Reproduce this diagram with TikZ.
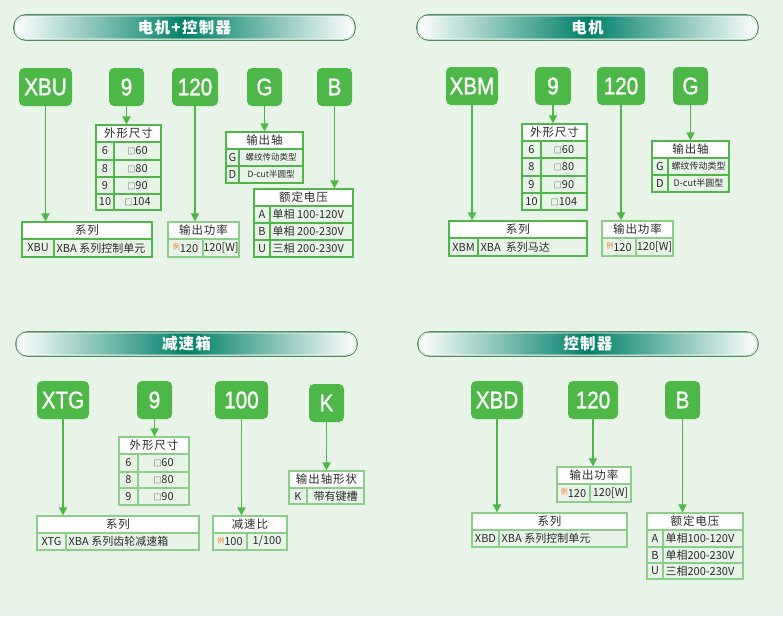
\documentclass[tikz,border=0pt]{standalone}
\usepackage{fontspec}
\setmainfont{Noto Sans CJK SC}
\newfontfamily\codefont[FakeStretch=0.86,FakeBold=1.2]{Liberation Sans}
\newfontfamily\hdrfont[LetterSpace=8]{Noto Sans CJK SC}
\newfontfamily\banfont[LetterSpace=8]{Noto Sans CJK SC}
\usetikzlibrary{arrows.meta}
\definecolor{bg}{HTML}{E8F4E8}
\definecolor{gr}{HTML}{4DB848}
\definecolor{grl}{HTML}{8ACF86}
\definecolor{teal1}{HTML}{00806A}
\definecolor{bord}{HTML}{4E8E62}
\definecolor{ora}{HTML}{F07A28}
\definecolor{txt}{HTML}{2A2A2A}
\newcommand\sq{{\fontsize{8}{8}\selectfont □}}
\newcommand\li{{\color{ora}\fontsize{7}{7}\selectfont\raisebox{2.5pt}{例}}}
\tikzset{
  codebox/.style={fill=gr, rounded corners=5pt, text=white, inner sep=0,
    font=\codefont\fontsize{24}{24}\selectfont},
  conn/.style={draw=gr, line width=1.8pt, -{Triangle[width=8pt,length=8pt]}},
  cell/.style={draw=gr, line width=1.2pt, inner sep=0, text=txt,
    font=\fontsize{11}{11}\selectfont},
  lt/.style={draw=grl},
  hdr/.style={fill=white, font=\hdrfont\fontsize{11.5}{11.5}\selectfont},
  small/.style={font=\fontsize{8.5}{8.5}\selectfont},
  smallb/.style={font=\fontsize{9}{9}\selectfont},
  lab/.style={anchor=west, xshift=3pt, inner sep=0, text=txt,
    font=\fontsize{11}{11}\selectfont},
  bannerbox/.style={rounded corners=12pt, draw=bord, line width=1.8pt, inner sep=0,
    left color=white, right color=white, middle color=teal1},
  bannertext/.style={text=white, font=\banfont\bfseries\fontsize{15.5}{15.5}\selectfont},
  spanbox/.style n args={4}{minimum width={(#3-#1)*1pt}, minimum height={(#4-#2)*1pt},
    at={({(#1+#3)/2},{(#2+#4)/2})}, anchor=center}
}
\newcommand\banner[6]{%
  \node[bannerbox, spanbox={#2}{#3}{#4}{#5}] (#1) {};
  \draw[white, line width=0.8pt, rounded corners=10pt]
    ([shift={(1.8pt,-1.8pt)}]#1.north west) rectangle ([shift={(-1.8pt,1.8pt)}]#1.south east);
  \node[bannertext] (#1t) at (#1.center) {#6};
}
\newcommand\cb[6]{\node[codebox,spanbox={#2}{#3}{#4}{#5}] (#1) {#6};}
\newcommand\hc[7][]{\node[cell,hdr,#1,spanbox={#3}{#4}{#5}{#6}] (#2) {#7};}
\newcommand\bc[7][]{\node[cell,#1,spanbox={#3}{#4}{#5}{#6}] (#2) {#7};}
\newcommand\blc[7][]{\node[cell,#1,spanbox={#3}{#4}{#5}{#6},label={[lab]west:{#7}}] (#2) {};}
\begin{document}
\begin{tikzpicture}[x=1pt,y=-1pt]
\fill[bg] (0,0) rectangle (783,616);
\useasboundingbox (0,0) rectangle (783,616);

%================ Top-left: motor + controller
\banner{banA}{14}{15}{355}{40}{电机+控制器}
\cb{xbu}{19}{68}{72}{106}{XBU}
\cb{nineA}{109}{68}{144}{106}{9}
\cb{powA}{172}{68}{218}{106}{120}
\cb{shA}{247}{68}{282}{106}{G}
\cb{vA}{317}{68}{352}{106}{B}

\bc{dimA1l}{96}{142}{114}{160}{6}  \bc{dimA1r}{114}{142}{161}{160}{\sq60}
\bc{dimA2l}{96}{160}{114}{177}{8}  \bc{dimA2r}{114}{160}{161}{177}{\sq80}
\bc{dimA3l}{96}{177}{114}{194}{9}  \bc{dimA3r}{114}{177}{161}{194}{\sq90}
\bc{dimA4l}{96}{194}{114}{210}{10} \bc{dimA4r}{114}{194}{161}{210}{\sq104}
\hc{dimAh}{96}{125}{161}{142}{外形尺寸}

\bc{shA1l}{226}{149}{239}{166}{G} \bc[small]{shA1r}{239}{149}{303}{166}{螺纹传动类型}
\bc{shA2l}{226}{166}{239}{183}{D} \bc[small]{shA2r}{239}{166}{303}{183}{D-cut半圆型}
\hc{shAh}{226}{132}{303}{149}{输出轴}

\bc{vA1l}{254}{206}{270}{223}{A} \blc{vA1r}{270}{206}{353}{223}{单相 100-120V}
\bc{vA2l}{254}{223}{270}{240}{B} \blc{vA2r}{270}{223}{353}{240}{单相 200-230V}
\bc{vA3l}{254}{240}{270}{257}{U} \blc{vA3r}{270}{240}{353}{257}{三相 200-230V}
\hc{vAh}{254}{189}{353}{206}{额定电压}

\bc{serA1l}{22}{239}{54}{257}{XBU} \blc{serA1r}{54}{239}{152}{257}{XBA 系列控制单元}
\hc{serAh}{22}{222}{152}{239}{系列}

\bc[lt]{pwA1l}{168}{239}{203}{257}{\li120} \bc[lt]{pwA1r}{203}{239}{239}{257}{120[W]}
\hc[lt]{pwAh}{168}{222}{239}{239}{输出功率}

\draw[conn] (xbu.south) -- (xbu.south |- serAh.north);
\draw[conn] (nineA.south) -- (nineA.south |- dimAh.north);
\draw[conn] (powA.south) -- (powA.south |- pwAh.north);
\draw[conn] (shA.south) -- (shA.south |- shAh.north);
\draw[conn] (vA.south) -- (vA.south |- vAh.north);

%================ Top-right: motor
\banner{banB}{417}{15}{758}{40}{电机}
\cb{xbm}{446}{67}{498}{105}{XBM}
\cb{nineB}{535}{67}{571}{105}{9}
\cb{powB}{597}{67}{645}{105}{120}
\cb{shB}{673}{67}{708}{105}{G}

\bc{dimB1l}{522}{141}{541}{158}{6}  \bc{dimB1r}{541}{141}{587}{158}{\sq60}
\bc{dimB2l}{522}{158}{541}{176}{8}  \bc{dimB2r}{541}{158}{587}{176}{\sq80}
\bc{dimB3l}{522}{176}{541}{193}{9}  \bc{dimB3r}{541}{176}{587}{193}{\sq90}
\bc{dimB4l}{522}{193}{541}{210}{10} \bc{dimB4r}{541}{193}{587}{210}{\sq104}
\hc{dimBh}{522}{124}{587}{141}{外形尺寸}

\bc{shB1l}{652}{158}{668}{175}{G} \bc[smallb]{shB1r}{668}{158}{729}{175}{螺纹传动类型}
\bc{shB2l}{652}{175}{668}{192}{D} \bc[smallb]{shB2r}{668}{175}{729}{192}{D-cut半圆型}
\hc{shBh}{652}{141}{729}{158}{输出轴}

\bc{serB1l}{449}{238}{478}{256}{XBM} \blc{serB1r}{478}{238}{587}{256}{XBA\ \ 系列马达}
\hc{serBh}{449}{221}{587}{238}{系列}

\bc[lt]{pwB1l}{602}{238}{636}{256}{\li120} \bc[lt]{pwB1r}{636}{238}{673}{256}{120[W]}
\hc[lt]{pwBh}{602}{221}{673}{238}{输出功率}

\draw[conn] (xbm.south) -- (xbm.south |- serBh.north);
\draw[conn] (nineB.south) -- (nineB.south |- dimBh.north);
\draw[conn] (powB.south) -- (powB.south |- pwBh.north);
\draw[conn] (shB.south) -- (shB.south |- shBh.north);

%================ Bottom-left: gearbox
\banner{banC}{16}{332}{357}{356}{减速箱}
\cb{xtg}{37}{381}{89}{419}{XTG}
\cb{nineC}{137}{381}{172}{419}{9}
\cb{ratC}{215}{381}{268}{419}{100}
\cb{kC}{309}{384}{344}{422}{K}

\bc[lt]{dimC1l}{119}{454}{138}{472}{6} \bc[lt]{dimC1r}{138}{454}{189}{472}{\sq60}
\bc[lt]{dimC2l}{119}{472}{138}{488}{8} \bc[lt]{dimC2r}{138}{472}{189}{488}{\sq80}
\bc[lt]{dimC3l}{119}{488}{138}{505}{9} \bc[lt]{dimC3r}{138}{488}{189}{505}{\sq90}
\hc[lt]{dimCh}{119}{437}{189}{454}{外形尺寸}

\bc[lt]{shC1l}{289}{488}{307}{504}{K} \bc[lt]{shC1r}{307}{488}{364}{504}{带有键槽}
\hc[lt]{shCh}{289}{471}{364}{488}{输出轴形状}

\bc[lt]{serC1l}{37}{533}{66}{550}{XTG} \blc[lt]{serC1r}{66}{533}{199}{550}{XBA 系列齿轮减速箱}
\hc[lt]{serCh}{37}{516}{199}{533}{系列}

\bc[lt]{ratC1l}{213}{533}{247}{550}{\li100} \bc[lt]{ratC1r}{247}{533}{287}{550}{1/100}
\hc[lt]{ratCh}{213}{516}{287}{533}{减速比}

\draw[conn] (xtg.south) -- (xtg.south |- serCh.north);
\draw[conn] (nineC.south) -- (nineC.south |- dimCh.north);
\draw[conn] (ratC.south) -- (ratC.south |- ratCh.north);
\draw[conn] (kC.south) -- (kC.south |- shCh.north);

%================ Bottom-right: controller
\banner{banD}{418}{332}{758}{356}{控制器}
\cb{xbd}{471}{381}{523}{419}{XBD}
\cb{powD}{568}{381}{618}{419}{120}
\cb{vD}{665}{381}{700}{419}{B}

\bc[lt]{pwD1l}{557}{484}{590}{502}{\li120} \bc[lt]{pwD1r}{590}{484}{631}{502}{120[W]}
\hc[lt]{pwDh}{557}{467}{631}{484}{输出功率}

\bc[lt]{serD1l}{472}{530}{499}{547}{XBD} \blc[lt]{serD1r}{499}{530}{627}{547}{XBA 系列控制单元}
\hc[lt]{serDh}{472}{513}{627}{530}{系列}

\bc[lt]{vD1l}{647}{530}{663}{547}{A} \blc[lt]{vD1r}{663}{530}{743}{547}{单相100-120V}
\bc[lt]{vD2l}{647}{547}{663}{563}{B} \blc[lt]{vD2r}{663}{547}{743}{563}{单相200-230V}
\bc[lt]{vD3l}{647}{563}{663}{579}{U} \blc[lt]{vD3r}{663}{563}{743}{579}{三相200-230V}
\hc[lt]{vDh}{647}{513}{743}{530}{额定电压}

\draw[conn] (xbd.south) -- (xbd.south |- serDh.north);
\draw[conn] (powD.south) -- (powD.south |- pwDh.north);
\draw[conn] (vD.south) -- (vD.south |- vDh.north);
\end{tikzpicture}
\end{document}
